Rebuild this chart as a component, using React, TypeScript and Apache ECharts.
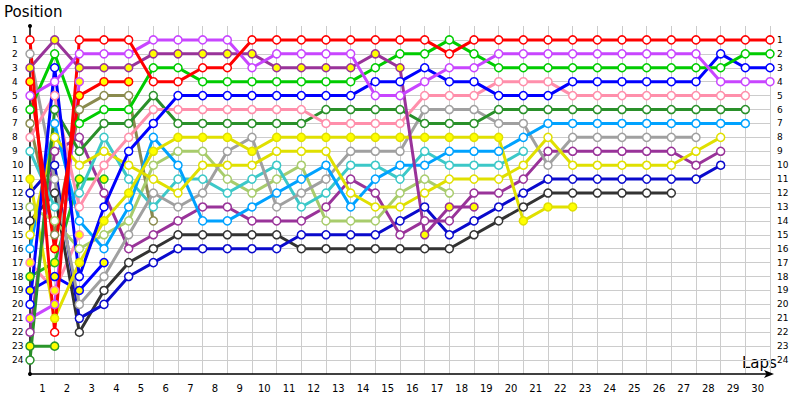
import React, { useEffect, useRef } from "react";
import * as echarts from "echarts";

// Lap labels (x axis, centred between lap lines)
const LAP_LABELS = ["1","2","3","4","5","6","7","8","9","10","11","12","13","14","15","16","17","18","19","20","21","22","23","24","25","26","27","28","29","30"];

// Positions per lap, lap 0 (grid) to lap 30
const redA = [1,22,1,1,1, 4,4,3,3,1, 1,1,1,1,1, 1,1,2,1,1, 1,1,1,1,1, 1,1,1,1,1, 1];
const redB = [4,16,5,4,4];
const magenta = [5,4,2,2,2, 1,1,1,1,3, 2,2,2,2,5, 5,4,3,3,2, 2,2,2,2,2, 2,2,2,4,4, 4];
const purpleY = [3,1,3,3,3, 2,2,2,2,2, 3,3,3,3,2, 3,15,13,13];
const green = [6,2,7,6,6, 3,3,4,4,4, 4,4,4,4,3, 2,2,1,2,3, 3,3,3,3,3, 3,3,3,3,2, 2];
const blue = [20,3,18,13,9, 7,5,5,5,5, 5,5,5,5,4, 4,3,4,4,5, 5,5,4,4,4, 4,4,4,2,3, 3];
const pink = [8,5,13,10,8, 6,6,6,6,6, 6,6,7,7,7, 7,5,5,5,4, 4,4,5,5,5, 5,5,5,5,5];
const darkGreen = [24,6,9,7,7, 5,7,7,7,7, 7,7,6,6,6, 6,7,7,7,6, 6,6,6,6,6, 6,6,6,6,6];
const lightBlue = [16,7,14,16,13, 8,10,14,14,13, 12,11,10,13,11, 10,10,9,9,9, 8,7,7,7,7, 7,7,7,7,7];
const gray = [2,11,20,18,15, 12,13,12,9,8, 13,12,11,9,9, 9,6,6,6,7, 7,10,8,8,8, 8,8,8];
const yellowY = [11,21,17,14,12, 9,8,8,8,9, 8,8,8,8,8, 8,8,8,8,8, 14,13,13];
const yellowH = [15,8,10,9,10, 11,12,10,10,10, 9,9,9,12,13, 13,12,11,11,11, 10,8,10,10,10, 10,10,9,8];
const darkBlue = [12,10,21,20,18, 17,16,16,16,16, 16,15,15,15,15, 14,13,15,14,13, 12,11,11,11,11, 11,11,11,10];
const black = [14,12,22,19,17, 16,15,15,15,15, 15,16,16,16,16, 16,16,16,15,14, 13,12,12,12,12, 12,12];
const purpleH = [22,9,8,12,16, 15,14,13,13,14, 14,14,13,11,12, 15,14,14,12,12, 11,9,9,9,9, 9,9,10,9];
const olive = [7,15,6,5,5, 14];
const lightGreen = [13,14,16,15,14, 10,9,9,11,12, 11,10,14,14,14, 12,11,12];
const cyan = [9,13,12,8,11, 13,11,11,12,11, 10,13,12,10,10, 11,9,10,10,10, 9];
const pinkY = [17,19,15];
const greenY = [18,17,11,11];
const blueY = [19,18,19,17];
const magentaY = [21,20,4];
const darkGreenY = [23,23];

const POS_MIN = 0;
const POS_MAX = 25;

const DRIVERS = [
  { name: "Olive", data: olive, color: "#8a8a4e", filled: false },
  { name: "Pink Y", data: pinkY, color: "#ff8fb0", filled: true },
  { name: "Green Y", data: greenY, color: "#22b822", filled: true },
  { name: "Blue Y", data: blueY, color: "#0000ff", filled: true },
  { name: "Magenta Y", data: magentaY, color: "#c845ff", filled: true },
  { name: "Dark green Y", data: darkGreenY, color: "#2a962a", filled: true },
  { name: "Black", data: black, color: "#333333", filled: false },
  { name: "Dark blue", data: darkBlue, color: "#0a0acc", filled: false },
  { name: "Purple", data: purpleH, color: "#993399", filled: false },
  { name: "Light green", data: lightGreen, color: "#a8cc6c", filled: false },
  { name: "Cyan", data: cyan, color: "#3cc8c8", filled: false },
  { name: "Gray", data: gray, color: "#a0a0a0", filled: false },
  { name: "Light blue", data: lightBlue, color: "#00a2ff", filled: false },
  { name: "Yellow", data: yellowH, color: "#e0e000", filled: false },
  { name: "Yellow Y", data: yellowY, color: "#e0e000", filled: true },
  { name: "Dark green", data: darkGreen, color: "#2a902a", filled: false },
  { name: "Pink", data: pink, color: "#ff8fab", filled: false },
  { name: "Blue", data: blue, color: "#0000ff", filled: false },
  { name: "Green", data: green, color: "#00cc00", filled: false },
  { name: "Red B", data: redB, color: "#ff0000", filled: true },
  { name: "Purple Y", data: purpleY, color: "#993399", filled: true },
  { name: "Magenta", data: magenta, color: "#c845ff", filled: false },
  { name: "Red", data: redA, color: "#ff0000", filled: false },
];

export default function App() {
  const ref = useRef<HTMLDivElement>(null);
  useEffect(() => {
    if (!ref.current) return;
    const chart = echarts.init(ref.current, null, { renderer: "svg" });
    const series = DRIVERS.map((d) => ({
      type: "line",
      name: d.name,
      xAxisIndex: 0,
      yAxisIndex: 0,
      data: d.data.map((p, i) => (p == null ? null : [i, p])).filter((v) => v !== null),
      symbol: "circle",
      symbolSize: 8,
      showAllSymbol: true,
      silent: true,
      lineStyle: { color: d.color, width: 3 },
      itemStyle: { color: d.filled ? "#ffff00" : "#ffffff", borderColor: d.color, borderWidth: 1.5 },
      emphasis: { disabled: true },
    }));
    const labelFont = { fontFamily: "DejaVu Sans", color: "#000" };
    chart.setOption({
      animation: false,
      grid: { left: 30, right: 30, top: 26, bottom: 26 },
      xAxis: [
        {
          type: "value",
          position: "bottom",
          min: 0,
          max: 30,
          interval: 1,
          axisLine: {
            show: true,
            onZero: false,
            lineStyle: { color: "#000", width: 1.5 },
            symbol: ["none", "arrow"],
            symbolSize: [6, 10],
            symbolOffset: [0, 4],
          },
          axisTick: { show: false },
          axisLabel: { show: false },
          splitLine: { show: true, showMinLine: false, lineStyle: { color: "#cccccc", width: 1 } },
        },
        {
          type: "category",
          data: LAP_LABELS,
          boundaryGap: true,
          position: "bottom",
          axisLine: { show: false, onZero: false },
          axisTick: { show: false },
          splitLine: { show: false },
          axisLabel: { ...labelFont, fontSize: 10, margin: 9 },
        },
      ],
      yAxis: [
        {
          type: "value",
          inverse: true,
          position: "left",
          min: POS_MIN,
          max: POS_MAX,
          interval: 1,
          axisLine: {
            show: true,
            onZero: false,
            lineStyle: { color: "#000", width: 1.5 },
            symbol: ["circle", "circle"],
            symbolSize: [4, 4],
          },
          axisTick: { show: false },
          axisLabel: { ...labelFont, fontSize: 9, margin: 18, align: "left", showMinLabel: false, showMaxLabel: false },
          splitLine: { show: true, showMinLine: false, showMaxLine: false, lineStyle: { color: "#cccccc", width: 1 } },
        },
        {
          type: "value",
          inverse: true,
          position: "right",
          min: POS_MIN,
          max: POS_MAX,
          interval: 1,
          axisLine: { show: false, onZero: false },
          axisTick: { show: false },
          axisLabel: { ...labelFont, fontSize: 9, margin: 7, showMinLabel: false, showMaxLabel: false },
          splitLine: { show: false },
        },
      ],
      graphic: [
        { type: "text", left: 4, top: 4, silent: true, style: { text: "Position", font: "15px 'DejaVu Sans'", fill: "#000" } },
        { type: "text", left: 742, top: 355, silent: true, style: { text: "Laps", font: "15px 'DejaVu Sans'", fill: "#000" } },
      ],
      series,
    });
    return () => chart.dispose();
  }, []);
  return <div ref={ref} style={{ position: "absolute", left: 0, top: 0, width: 800, height: 400 }} />;
}
